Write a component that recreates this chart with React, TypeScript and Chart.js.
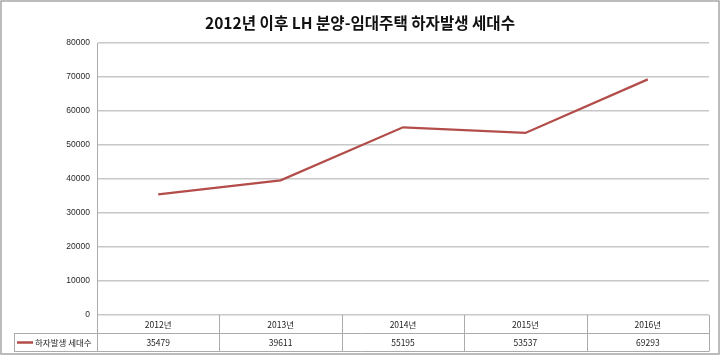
import React, { useEffect, useRef } from "react";
import { Chart, registerables } from "chart.js";

Chart.register(...registerables);

const chartTitle = "2012년 이후 LH 분양-임대주택 하자발생 세대수";
const categories = ["2012년", "2013년", "2014년", "2015년", "2016년"];
const seriesName = "하자발생 세대수";
const seriesValues = [35479, 39611, 55195, 53537, 69293];
const yTickValues = [0, 10000, 20000, 30000, 40000, 50000, 60000, 70000, 80000];

const LINE_COLOR = "#B34D4A";
const GRID_COLOR = "#C8C8C8";
const TABLE_COLOR = "#ABABAB";
const FRAME_COLOR = "#A6A6A6";
const CJK = "'Noto Sans CJK KR', 'Noto Sans', sans-serif";

const framePlugin = {
  id: "frameAndTable",
  beforeDraw(chart: any) {
    const { ctx, width, height } = chart;
    ctx.save();
    ctx.fillStyle = "#ffffff";
    ctx.fillRect(0, 0, width, height);
    ctx.strokeStyle = FRAME_COLOR;
    ctx.lineWidth = 1.5;
    ctx.strokeRect(1, 1, width - 2, height - 3);
    ctx.restore();
  },
  afterDraw(chart: any) {
    const { ctx, chartArea } = chart;
    const xScale = chart.scales.x;
    const L = chartArea.left;
    const R = chartArea.right;
    const B = chartArea.bottom;
    const rowH = 18;
    const legendLeft = 14;
    const n = categories.length;
    const colW = (R - L) / n;

    ctx.save();
    // title
    ctx.fillStyle = "#111111";
    ctx.font = `bold 16px ${CJK}`;
    ctx.textAlign = "center";
    ctx.textBaseline = "middle";
    const tw = ctx.measureText(chartTitle).width;
    const sx = 310 / tw;
    ctx.save();
    ctx.translate(360, 23);
    ctx.scale(sx, 1);
    ctx.fillText(chartTitle, 0, 0);
    ctx.restore();

    // table lines
    ctx.strokeStyle = TABLE_COLOR;
    ctx.lineWidth = 1;
    ctx.beginPath();
    ctx.moveTo(legendLeft, B + rowH + 0.5);
    ctx.lineTo(R, B + rowH + 0.5);
    ctx.moveTo(legendLeft, B + 2 * rowH + 0.5);
    ctx.lineTo(R, B + 2 * rowH + 0.5);
    for (let i = 0; i <= n; i++) {
      const x = Math.round(L + i * colW) + 0.5;
      ctx.moveTo(x, B);
      ctx.lineTo(x, B + 2 * rowH + 0.5);
    }
    ctx.moveTo(legendLeft + 0.5, B + rowH);
    ctx.lineTo(legendLeft + 0.5, B + 2 * rowH + 0.5);
    ctx.stroke();

    // texts
    ctx.fillStyle = "#222222";
    ctx.font = `8.5px ${CJK}`;
    ctx.textAlign = "center";
    for (let i = 0; i < n; i++) {
      const cx = xScale.getPixelForValue(i);
      ctx.fillText(categories[i], cx, B + rowH / 2 + 0.5);
      ctx.fillText(String(seriesValues[i]), cx, B + rowH * 1.5 + 0.5);
    }
    // legend key
    const ly = B + rowH * 1.5 + 0.5;
    ctx.strokeStyle = LINE_COLOR;
    ctx.lineWidth = 2.5;
    ctx.beginPath();
    ctx.moveTo(17, ly);
    ctx.lineTo(33, ly);
    ctx.stroke();
    ctx.font = `8.5px ${CJK}`;
    ctx.textAlign = "left";
    ctx.fillText(seriesName, 35, ly);
    ctx.restore();
  },
};

export default function App() {
  const ref = useRef<HTMLCanvasElement | null>(null);

  useEffect(() => {
    document.body.style.margin = "0";
    if (!ref.current) return;
    const chart = new Chart(ref.current, {
      type: "line",
      data: {
        labels: categories,
        datasets: [
          {
            label: seriesName,
            data: seriesValues,
            borderColor: LINE_COLOR,
            backgroundColor: LINE_COLOR,
            borderWidth: 2.25,
            pointRadius: 0,
            tension: 0,
            fill: false,
          },
        ],
      },
      options: {
        responsive: false,
        animation: false,
        events: [],
        layout: { padding: { top: 43, right: 11, bottom: 41, left: 0 } },
        plugins: {
          legend: { display: false },
          title: { display: false },
          tooltip: { enabled: false },
        },
        scales: {
          x: {
            type: "category",
            display: false,
            offset: true,
          },
          y: {
            min: yTickValues[0],
            max: yTickValues[yTickValues.length - 1],
            afterBuildTicks: (scale: any) => {
              scale.ticks = yTickValues.map((v) => ({ value: v }));
            },
            afterFit: (scale: any) => {
              scale.width = 97;
            },
            grid: { color: GRID_COLOR, lineWidth: 1.5, drawTicks: false },
            border: { display: true, color: TABLE_COLOR, width: 1 },
            ticks: {
              padding: 7,
              color: "#2a2a2a",
              font: { family: "'Liberation Sans', sans-serif", size: 8.5 },
              callback: (v: any) => String(v),
            },
          },
        },
      },
      plugins: [framePlugin],
    });
    return () => chart.destroy();
  }, []);

  return (
    <canvas
      ref={ref}
      width={720}
      height={356}
      style={{ display: "block", width: 720, height: 356 }}
    />
  );
}
